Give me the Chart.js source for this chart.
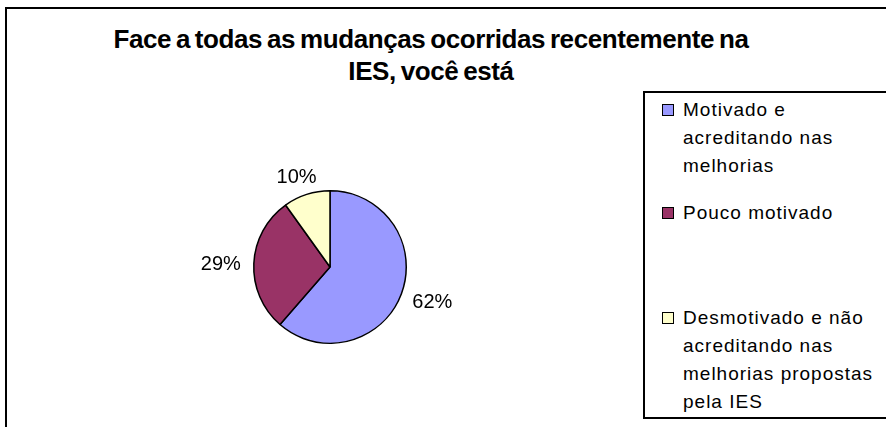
<!DOCTYPE html>
<html>
<head>
<meta charset="utf-8">
<script src="https://cdn.jsdelivr.net/npm/chart.js@4/dist/chart.umd.min.js"></script>
<style>
  body { margin: 0; background: #fff; }
  #wrap { position: relative; width: 886px; height: 427px; overflow: hidden; font-family: "Liberation Sans", Arial, sans-serif; }
  #frame { position: absolute; left: 5px; top: 7px; width: 1000px; height: 1000px; border-left: 2px solid #000; border-top: 2px solid #000; box-sizing: border-box; }
  #title { position: absolute; left: 0; width: 862px; top: 23px; text-align: center; font-weight: bold; font-size: 26px; line-height: 32px; letter-spacing: -0.4px; word-spacing: -2px; color: #000; }
  #myChart { position: absolute; left: 0; top: 0; }
  #legend { position: absolute; left: 643px; top: 91px; width: 300px; height: 328px; border-left: 2px solid #000; border-top: 2px solid #000; border-bottom: 2px solid #000; box-sizing: border-box; background: #fff; }
  .item { position: absolute; left: 38px; font-size: 19px; line-height: 28px; letter-spacing: 1px; color: #000; white-space: nowrap; }
  .box { position: absolute; left: -21px; top: 8px; width: 12px; height: 12px; border: 1.5px solid #000; box-sizing: border-box; }
</style>
</head>
<body>
<div id="wrap">
  <div id="frame"></div>
  <div id="title">Face a todas as mudanças ocorridas recentemente na<br>IES, você está</div>
  <canvas id="myChart" width="886" height="427"></canvas>
  <div id="legend"></div>
</div>
<script>
// legend labels (with the line breaks shown in the picture)
const categories = [
  ['Motivado e', 'acreditando nas', 'melhorias'],
  ['Pouco motivado'],
  ['Desmotivado e não', 'acreditando nas', 'melhorias propostas', 'pela IES']
];
const values = [62, 29, 10];
const pctLabels = ['62%', '29%', '10%'];
const colors = ['#9999FF', '#993366', '#FFFFCC'];
const legendTops = [3, 106, 211];

function buildLegend() {
  const lg = document.getElementById('legend');
  categories.forEach((lines, i) => {
    const d = document.createElement('div');
    d.className = 'item';
    d.style.top = legendTops[i] + 'px';
    d.innerHTML = lines.join('<br>');
    const b = document.createElement('span');
    b.className = 'box';
    b.style.background = colors[i];
    d.appendChild(b);
    lg.appendChild(d);
  });
}

const outsideLabels = {
  id: 'outsideLabels',
  afterDatasetsDraw(chart) {
    const ctx = chart.ctx;
    const meta = chart.getDatasetMeta(0);
    ctx.save();
    ctx.font = '20px "Liberation Sans", Arial, sans-serif';
    ctx.fillStyle = '#000';
    ctx.textAlign = 'center';
    ctx.textBaseline = 'middle';
    meta.data.forEach((arc, i) => {
      const p = arc.getProps(['x', 'y', 'startAngle', 'endAngle', 'outerRadius'], true);
      const mid = (p.startAngle + p.endAngle) / 2;
      const dx = Math.cos(mid), dy = Math.sin(mid);
      const hw = ctx.measureText(pctLabels[i]).width / 2;
      const hh = 7;
      const gap = 13;
      const x = p.x + dx * (p.outerRadius + gap) + dx * hw;
      const y = p.y + dy * (p.outerRadius + gap) + dy * hh + 2;
      ctx.fillText(pctLabels[i], x, y);
    });
    ctx.restore();
  }
};

function drawPie() {
  const data = {
    labels: categories.map(c => c.join(' ')),
    datasets: [{
      data: values,
      backgroundColor: colors,
      borderColor: '#000',
      borderWidth: 1.5
    }]
  };
  const config = {
    type: 'pie',
    data,
    options: {
      responsive: false,
      animation: false,
      layout: { padding: { left: 200, right: 426, top: 190, bottom: 83 } },
      plugins: {
        legend: { display: false },
        title: { display: false },
        tooltip: { enabled: false }
      }
    },
    plugins: [outsideLabels]
  };
  new Chart(document.getElementById('myChart'), config);
}

buildLegend();
drawPie();
</script>
</body>
</html>
